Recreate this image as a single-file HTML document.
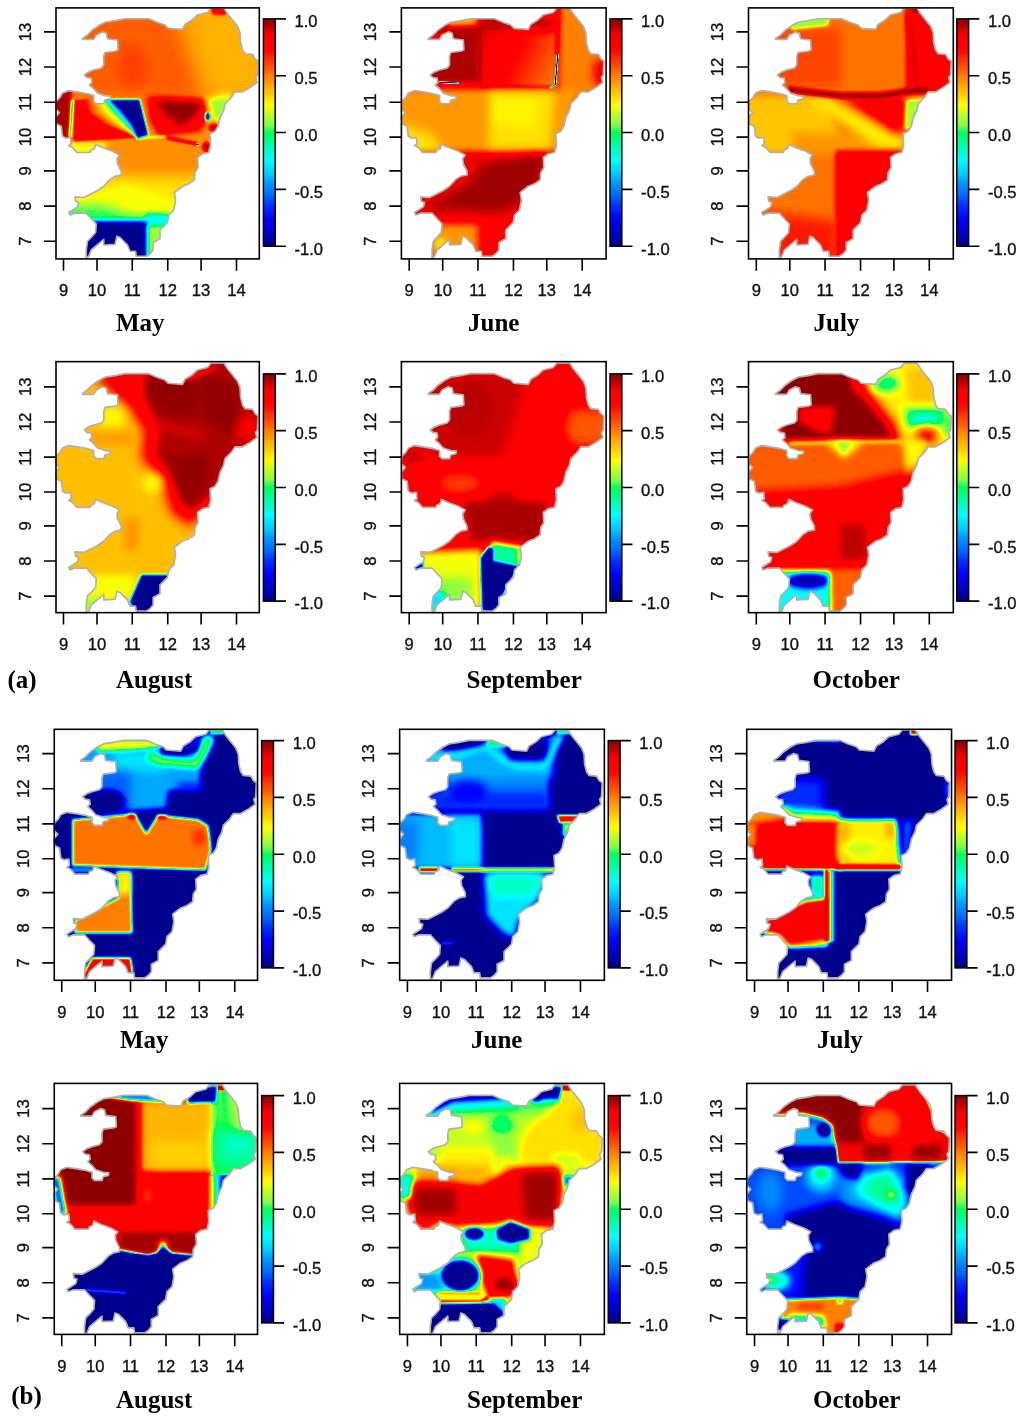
<!DOCTYPE html>
<html lang="en"><head><meta charset="utf-8"><title>Monthly correlation maps</title>
<style>html,body{margin:0;padding:0;background:#fff}svg{display:block}.a{font-family:"Liberation Sans",sans-serif;font-size:16.6px;fill:#111;stroke:#111;stroke-width:.35px}.m{font-family:"Liberation Serif",serif;font-weight:bold;font-size:25px;fill:#000;text-anchor:start}.l{stroke:#000;stroke-width:1.6;fill:none}</style></head><body>
<svg width="1024" height="1418" viewBox="0 0 1024 1418">
<defs>
<polygon id="map" points="82.5,38.5 87.5,35 92.5,30 98.75,25.6 105,22.25 115,20.6 125,18.75 148.75,18.75 157.5,22.5 165,25 168,28.3 182.5,29.4 185,24.4 191.25,20.6 197.5,15 207.5,12.5 211.25,8.1 223.75,8.1 227.5,13.75 237.5,26.25 240,32.5 240.6,42.5 242.5,50 245,53.75 252.5,54.4 255,58.75 258.1,61.25 257.5,75 255.6,77.5 256.9,82.5 250,87.5 242.5,91.9 235,91.9 231.25,97.5 225,103.75 223.75,110 220,117.5 218.1,126.25 215,131.25 210,133.75 210.6,145 208.75,152.5 202.5,153.75 197.5,157.5 198.1,167.5 195,172.5 194.4,180 188.75,183.75 182.5,186.25 174.4,192.5 175.6,200 173.75,210 168.75,215 167.5,222.5 160,230 160,238.75 153.1,242.5 153.1,250 150,253.75 146.25,256.25 136.25,256.25 135.6,251.25 130,251.25 127.5,245 120,237.5 116.9,236.25 115,244.4 103.75,245 103.75,239.4 91.25,250 88.75,256.25 86.25,258 86.25,250 87.5,241.25 91.25,237.5 95.6,232.5 96.25,223.75 92.5,220 86.25,213.1 75,213.1 70,215 68.75,212.5 77.5,206.9 78.75,202.5 75.6,201.25 75,196.9 83.75,197.5 91.25,193.75 97.5,190.6 103.75,186.25 110,179.4 115,176.25 121.25,175 121.25,171.25 117.5,163.75 116.9,158.75 119.4,155 112.5,151.25 102.5,147.5 95.6,144.4 94.4,148.75 91.25,150 90,152.5 76.9,152.5 72.5,147.5 68.75,145.6 71.25,143.75 70.6,137.5 65.6,138.1 62.5,136.25 61.25,126.25 56.25,123.75 55.6,117.5 59.4,112.5 55.6,108.75 56.25,101.25 60,97.5 62.5,93.1 68.75,90.6 77.5,91.9 87.5,93.75 93.75,95.6 93.75,101.25 96.25,103.75 103.75,103.75 105,100 110,98.75 110.6,96.25 105,95.6 97.5,93.1 93.75,88.75 89.4,85 91.9,82.5 91.25,78.1 86.9,77.5 84.4,75 88.75,71.9 93.75,70 101.25,68.1 103.75,65 103.75,56.25 105,52.5 115,51.25 118.1,50 117.5,40 107.5,38.75 106.25,33.1 102.5,31.9 96.25,35 93.75,39.4 82.5,39.4"/>
<linearGradient id="cb" x1="0" y1="0" x2="0" y2="1"><stop offset="0" stop-color="#8f0000"/><stop offset="0.03" stop-color="#b20000"/><stop offset="0.05" stop-color="#d50000"/><stop offset="0.07" stop-color="#f80000"/><stop offset="0.1" stop-color="#ff0000"/><stop offset="0.12" stop-color="#ff0000"/><stop offset="0.15" stop-color="#ff0c00"/><stop offset="0.17" stop-color="#ff2900"/><stop offset="0.2" stop-color="#ff4600"/><stop offset="0.23" stop-color="#ff6300"/><stop offset="0.25" stop-color="#ff8000"/><stop offset="0.28" stop-color="#ff9800"/><stop offset="0.3" stop-color="#ffb100"/><stop offset="0.33" stop-color="#ffc900"/><stop offset="0.35" stop-color="#ffe200"/><stop offset="0.38" stop-color="#fffa00"/><stop offset="0.4" stop-color="#e2ff0f"/><stop offset="0.42" stop-color="#bfff22"/><stop offset="0.45" stop-color="#9bff36"/><stop offset="0.47" stop-color="#77ff49"/><stop offset="0.5" stop-color="#00ff61"/><stop offset="0.53" stop-color="#00ff81"/><stop offset="0.55" stop-color="#00ffa0"/><stop offset="0.57" stop-color="#00ffc0"/><stop offset="0.6" stop-color="#00ffdf"/><stop offset="0.62" stop-color="#00ffff"/><stop offset="0.65" stop-color="#00e5ff"/><stop offset="0.68" stop-color="#00ccff"/><stop offset="0.7" stop-color="#00b3ff"/><stop offset="0.72" stop-color="#0099ff"/><stop offset="0.75" stop-color="#0080ff"/><stop offset="0.78" stop-color="#0066ff"/><stop offset="0.8" stop-color="#004cff"/><stop offset="0.82" stop-color="#0033ff"/><stop offset="0.85" stop-color="#001aff"/><stop offset="0.88" stop-color="#0000ff"/><stop offset="0.9" stop-color="#0000e9"/><stop offset="0.93" stop-color="#0000d2"/><stop offset="0.95" stop-color="#0000bc"/><stop offset="0.97" stop-color="#0000a5"/><stop offset="1" stop-color="#00008f"/></linearGradient>
<filter id="b0_6" filterUnits="userSpaceOnUse" x="-40" y="-40" width="1100" height="1500" color-interpolation-filters="sRGB"><feGaussianBlur stdDeviation="0.6"/></filter>
<filter id="b1" filterUnits="userSpaceOnUse" x="-40" y="-40" width="1100" height="1500" color-interpolation-filters="sRGB"><feGaussianBlur stdDeviation="1"/></filter>
<filter id="b1_5" filterUnits="userSpaceOnUse" x="-40" y="-40" width="1100" height="1500" color-interpolation-filters="sRGB"><feGaussianBlur stdDeviation="1.5"/></filter>
<filter id="b2" filterUnits="userSpaceOnUse" x="-40" y="-40" width="1100" height="1500" color-interpolation-filters="sRGB"><feGaussianBlur stdDeviation="2"/></filter>
<filter id="b3" filterUnits="userSpaceOnUse" x="-40" y="-40" width="1100" height="1500" color-interpolation-filters="sRGB"><feGaussianBlur stdDeviation="3"/></filter>
<filter id="b4" filterUnits="userSpaceOnUse" x="-40" y="-40" width="1100" height="1500" color-interpolation-filters="sRGB"><feGaussianBlur stdDeviation="4"/></filter>
<filter id="b6" filterUnits="userSpaceOnUse" x="-40" y="-40" width="1100" height="1500" color-interpolation-filters="sRGB"><feGaussianBlur stdDeviation="6"/></filter>
<filter id="b8" filterUnits="userSpaceOnUse" x="-40" y="-40" width="1100" height="1500" color-interpolation-filters="sRGB"><feGaussianBlur stdDeviation="8"/></filter>
<filter id="b12" filterUnits="userSpaceOnUse" x="-40" y="-40" width="1100" height="1500" color-interpolation-filters="sRGB"><feGaussianBlur stdDeviation="12"/></filter>
<filter id="jet" filterUnits="userSpaceOnUse" x="0" y="0" width="1024" height="1418" color-interpolation-filters="sRGB"><feComponentTransfer><feFuncR type="table" tableValues="0 0 0 0 0 0 0 0 0 0 0 0 0 0 0 0 0 0 0 0 0 0 0 0 0 0 0 0 0 0 0 0 0 0 0 0 0 0 0 0 0 0 0 0 0 0 0 0 0 0 0 0 0.44 0.496 0.552 0.608 0.664 0.72 0.776 0.832 0.888 0.944 1 1 1 1 1 1 1 1 1 1 1 1 1 1 1 1 1 1 1 1 1 1 1 1 1 1 1 1 1 1 1 0.945 0.89 0.835 0.78 0.725 0.67 0.615 0.56"/><feFuncG type="table" tableValues="0 0 0 0 0 0 0 0 0 0 0 0 0 0.02 0.06 0.1 0.14 0.18 0.22 0.26 0.3 0.34 0.38 0.42 0.46 0.5 0.54 0.58 0.62 0.66 0.7 0.74 0.78 0.82 0.86 0.9 0.94 0.98 1 1 1 1 1 1 1 1 1 1 1 1 1 1 1 1 1 1 1 1 1 1 1 1 1 0.962 0.923 0.885 0.846 0.808 0.769 0.731 0.692 0.654 0.615 0.577 0.538 0.5 0.455 0.409 0.364 0.318 0.273 0.227 0.182 0.136 0.0909 0.0455 0 0 0 0 0 0 0 0 0 0 0 0 0 0 0"/><feFuncB type="table" tableValues="0.56 0.595 0.63 0.666 0.701 0.736 0.771 0.806 0.842 0.877 0.912 0.947 0.982 1 1 1 1 1 1 1 1 1 1 1 1 1 1 1 1 1 1 1 1 1 1 1 1 1 0.975 0.926 0.876 0.826 0.777 0.727 0.678 0.628 0.578 0.529 0.479 0.43 0.38 0.327 0.3 0.27 0.24 0.21 0.18 0.15 0.12 0.09 0.06 0.03 0 0 0 0 0 0 0 0 0 0 0 0 0 0 0 0 0 0 0 0 0 0 0 0 0 0 0 0 0 0 0 0 0 0 0 0 0 0 0"/></feComponentTransfer></filter>
<g id="axx">
<path class="l" d="M63.5 258.9v11.8M97 258.9v11.8M132.25 258.9v11.8M167.75 258.9v11.8M201.1 258.9v11.8M236.5 258.9v11.8"/>
<text class="a" text-anchor="middle" x="63.5" y="296.2">9</text>
<text class="a" text-anchor="middle" x="97" y="296.2">10</text>
<text class="a" text-anchor="middle" x="132.25" y="296.2">11</text>
<text class="a" text-anchor="middle" x="167.75" y="296.2">12</text>
<text class="a" text-anchor="middle" x="201.1" y="296.2">13</text>
<text class="a" text-anchor="middle" x="236.5" y="296.2">14</text>
</g>
<g id="axy">
<path class="l" d="M56 241.2h-12M56 206.1h-12M56 170.9h-12M56 137.1h-12M56 102.2h-12M56 67h-12M56 31.9h-12"/>
<text class="a" text-anchor="middle" transform="translate(30.8 241.2) rotate(-90)">7</text>
<text class="a" text-anchor="middle" transform="translate(30.8 206.1) rotate(-90)">8</text>
<text class="a" text-anchor="middle" transform="translate(30.8 170.9) rotate(-90)">9</text>
<text class="a" text-anchor="middle" transform="translate(30.8 137.1) rotate(-90)">10</text>
<text class="a" text-anchor="middle" transform="translate(30.8 102.2) rotate(-90)">11</text>
<text class="a" text-anchor="middle" transform="translate(30.8 67) rotate(-90)">12</text>
<text class="a" text-anchor="middle" transform="translate(30.8 31.9) rotate(-90)">13</text>
</g>
<g id="axb">
<path class="l" d="M275.2 18.9h10.7M275.2 75.72h10.7M275.2 132.55h10.7M275.2 189.38h10.7M275.2 246.2h10.7"/>
<rect x="263.4" y="18.9" width="11.8" height="227.3" fill="url(#cb)" stroke="#000" stroke-width="1.5"/>
<text class="a" x="294.5" y="27.2">1.0</text>
<text class="a" x="294.5" y="84.02">0.5</text>
<text class="a" x="294.5" y="140.85">0.0</text>
<text class="a" x="294.5" y="197.68">-0.5</text>
<text class="a" x="294.5" y="254.5">-1.0</text>
</g>
</defs>
<rect width="1024" height="1418" fill="#fff"/>
<clipPath id="c0"><use href="#map" transform="translate(0 0)"/></clipPath>
<g clip-path="url(#c0)"><g filter="url(#jet)">
<rect x="50" y="4" width="240" height="262" fill="#bbbbbb"/>
<filter id="f0_8" filterUnits="userSpaceOnUse" x="40" y="-6" width="260" height="282" color-interpolation-filters="sRGB"><feGaussianBlur stdDeviation="8"/></filter>
<g filter="url(#f0_8)"><polygon points="75,11.5 170,11.5 190,66.5 200,99 75,99" fill="#c7c7c7"/><polygon points="185,4 267.5,4 267.5,99 215,99 200,66.5" fill="#b2b2b2"/></g>
<filter id="f0_6" filterUnits="userSpaceOnUse" x="40" y="-6" width="260" height="282" color-interpolation-filters="sRGB"><feGaussianBlur stdDeviation="6"/></filter>
<g filter="url(#f0_6)"><ellipse cx="132.5" cy="66.5" rx="15" ry="22.5" fill="#cdcdcd"/></g>
<filter id="f0_1_5" filterUnits="userSpaceOnUse" x="40" y="-6" width="260" height="282" color-interpolation-filters="sRGB"><feGaussianBlur stdDeviation="1.5"/></filter>
<g filter="url(#f0_1_5)"><polygon points="210,4 231.25,4 225,15.25 212.5,14.5" fill="#e6e6e6"/></g>
<g filter="url(#f0_6)"><polygon points="60,176.5 210,176.5 210,261.5 60,261.5" fill="#a6a6a6"/></g>
<filter id="f0_4" filterUnits="userSpaceOnUse" x="40" y="-6" width="260" height="282" color-interpolation-filters="sRGB"><feGaussianBlur stdDeviation="4"/></filter>
<g filter="url(#f0_4)"><polygon points="65,201.5 125,185.25 180,201.5 180,216.5 125,206.5 65,219" fill="#9c9c9c"/></g>
<filter id="f0_3_5" filterUnits="userSpaceOnUse" x="40" y="-6" width="260" height="282" color-interpolation-filters="sRGB"><feGaussianBlur stdDeviation="3.5"/></filter>
<g filter="url(#f0_3_5)"><polygon points="60,205.25 100,203.5 132.5,212 172.5,214.5 172.5,225.25 60,227.75" fill="#838383"/></g>
<filter id="f0_2" filterUnits="userSpaceOnUse" x="40" y="-6" width="260" height="282" color-interpolation-filters="sRGB"><feGaussianBlur stdDeviation="2"/></filter>
<g filter="url(#f0_2)"><polygon points="146.25,215.25 172.5,215.25 172.5,261.5 146.25,261.5" fill="#8c8c8c"/><polygon points="146.25,214 172.5,215.25 172.5,225.25 146.25,225.25" fill="#606060"/><polygon points="80,221 146.5,221 146.5,261.5 75,261.5" fill="#000000"/></g>
<g filter="url(#f0_1_5)"><polygon points="50,89 71.5,89 71.5,144 50,144" fill="#f9f9f9"/></g>
<filter id="f0_2_5" filterUnits="userSpaceOnUse" x="40" y="-6" width="260" height="282" color-interpolation-filters="sRGB"><feGaussianBlur stdDeviation="2.5"/></filter>
<g filter="url(#f0_2_5)"><polygon points="60,141 107.5,142 100,159 60,159" fill="#9f9f9f"/></g>
<filter id="f0_1_3" filterUnits="userSpaceOnUse" x="40" y="-6" width="260" height="282" color-interpolation-filters="sRGB"><feGaussianBlur stdDeviation="1.3"/></filter>
<g filter="url(#f0_1_3)"><polygon points="73.75,100 90,100 137.5,137.5 73.75,141.5" fill="#e8e8e8"/></g>
<filter id="f0_1_2" filterUnits="userSpaceOnUse" x="40" y="-6" width="260" height="282" color-interpolation-filters="sRGB"><feGaussianBlur stdDeviation="1.2"/></filter>
<g filter="url(#f0_1_2)"><polygon points="83.75,99.75 87.5,112.5 103.75,125 137.5,137.5 137.5,137.5 105.42,125 88.75,112.5 85,99.75" fill="#e0e0e0" stroke="#e0e0e0" stroke-width="0.3" stroke-linejoin="round"/><polygon points="85,99.75 88.75,112.5 105.42,125 137.5,137.5 137.5,137.5 107.08,125 90,112.5 86.25,99.75" fill="#d9d9d9" stroke="#d9d9d9" stroke-width="0.3" stroke-linejoin="round"/><polygon points="86.25,99.75 90,112.5 107.08,125 137.5,137.5 137.5,137.5 108.75,125 91.25,112.5 87.5,99.75" fill="#d2d2d2" stroke="#d2d2d2" stroke-width="0.3" stroke-linejoin="round"/><polygon points="87.5,99.75 91.25,112.5 108.75,125 137.5,137.5 137.5,137.5 111.67,125 95,112.5 90.42,99.75" fill="#c9c9c9" stroke="#c9c9c9" stroke-width="0.3" stroke-linejoin="round"/><polygon points="90.42,99.75 95,112.5 111.67,125 137.5,137.5 137.5,137.5 114.58,125 98.75,112.5 93.33,99.75" fill="#bfbfbf" stroke="#bfbfbf" stroke-width="0.3" stroke-linejoin="round"/><polygon points="93.33,99.75 98.75,112.5 114.58,125 137.5,137.5 137.5,137.5 117.5,125 102.5,112.5 96.25,99.75" fill="#b4b4b4" stroke="#b4b4b4" stroke-width="0.3" stroke-linejoin="round"/><polygon points="96.25,99.75 102.5,112.5 117.5,125 137.5,137.5 137.5,137.5 120,125 105.83,112.5 98.33,99.75" fill="#a9a9a9" stroke="#a9a9a9" stroke-width="0.3" stroke-linejoin="round"/><polygon points="98.33,99.75 105.83,112.5 120,125 137.5,137.5 137.5,137.5 122.5,125 109.17,112.5 100.42,99.75" fill="#9f9f9f" stroke="#9f9f9f" stroke-width="0.3" stroke-linejoin="round"/><polygon points="100.42,99.75 109.17,112.5 122.5,125 137.5,137.5 137.5,137.5 125,125 112.5,112.5 102.5,99.75" fill="#949494" stroke="#949494" stroke-width="0.3" stroke-linejoin="round"/><polygon points="102.5,99.75 112.5,112.5 125,125 137.5,137.5 137.5,137.5 125.83,125 113.75,112.5 103.5,99.75" fill="#8a8a8a" stroke="#8a8a8a" stroke-width="0.3" stroke-linejoin="round"/><polygon points="103.5,99.75 113.75,112.5 125.83,125 137.5,137.5 137.5,137.5 126.67,125 115,112.5 104.5,99.75" fill="#808080" stroke="#808080" stroke-width="0.3" stroke-linejoin="round"/><polygon points="104.5,99.75 115,112.5 126.67,125 137.5,137.5 137.5,137.5 127.5,125 116.25,112.5 105.5,99.75" fill="#757575" stroke="#757575" stroke-width="0.3" stroke-linejoin="round"/><polygon points="105.5,99.75 116.25,112.5 127.5,125 137.5,137.5 137.67,137.5 128.83,125 118,112.5 106.67,99.75" fill="#666666" stroke="#666666" stroke-width="0.3" stroke-linejoin="round"/><polygon points="106.67,99.75 118,112.5 128.83,125 137.67,137.5 137.83,137.5 130.17,125 119.75,112.5 107.83,99.75" fill="#525252" stroke="#525252" stroke-width="0.3" stroke-linejoin="round"/><polygon points="107.83,99.75 119.75,112.5 130.17,125 137.83,137.5 138,137.5 131.5,125 121.5,112.5 109,99.75" fill="#3d3d3d" stroke="#3d3d3d" stroke-width="0.3" stroke-linejoin="round"/></g>
<filter id="f0_1" filterUnits="userSpaceOnUse" x="40" y="-6" width="260" height="282" color-interpolation-filters="sRGB"><feGaussianBlur stdDeviation="1"/></filter>
<g filter="url(#f0_1)"><polyline points="72.5,100.25 70,137" fill="none" stroke="#595959" stroke-width="2.5" stroke-linejoin="round" stroke-linecap="butt"/><polygon points="109,99.75 139.5,99.75 148.25,135.25 138,138.5 131.5,125 121.5,112.5" fill="#000000"/></g>
<filter id="f0_3" filterUnits="userSpaceOnUse" x="40" y="-6" width="260" height="282" color-interpolation-filters="sRGB"><feGaussianBlur stdDeviation="3"/></filter>
<g filter="url(#f0_3)"><polygon points="146.75,96.5 203.5,99.75 208.5,114 201,131 160,136.5 150,121.5" fill="#e8e8e8"/></g>
<g filter="url(#f0_3_5)"><polygon points="155,99.75 203,101.5 195,116.5 180,126.5 165,114" fill="#fefefe"/></g>
<g filter="url(#f0_3)"><polygon points="207,99 231.25,94 225,119 213.75,121.5 210.5,109" fill="#8c8c8c"/></g>
<filter id="f0_0_8" filterUnits="userSpaceOnUse" x="40" y="-6" width="260" height="282" color-interpolation-filters="sRGB"><feGaussianBlur stdDeviation="0.8"/></filter>
<g filter="url(#f0_0_8)"><ellipse cx="207.75" cy="116.5" rx="2.25" ry="4" fill="#000000"/></g>
<g filter="url(#f0_1_5)"><ellipse cx="213.75" cy="127.75" rx="5" ry="3.75" fill="#f5f5f5"/><ellipse cx="206.25" cy="147" rx="3.75" ry="5" fill="#f9f9f9"/></g>
<g filter="url(#f0_1)"><polyline points="140.5,138 165,136.75" fill="none" stroke="#808080" stroke-width="1.5" stroke-linejoin="round" stroke-linecap="butt"/><polyline points="167.5,138 197.5,144" fill="none" stroke="#f0f0f0" stroke-width="3" stroke-linejoin="round" stroke-linecap="butt"/></g>
<filter id="f0_0_6" filterUnits="userSpaceOnUse" x="40" y="-6" width="260" height="282" color-interpolation-filters="sRGB"><feGaussianBlur stdDeviation="0.6"/></filter>
<g filter="url(#f0_0_6)"><ellipse cx="197.5" cy="144.25" rx="1.5" ry="1" fill="#191919"/></g>
</g></g>
<use href="#map" transform="translate(0 0)" fill="none" stroke="#b0b0b0" stroke-width="1.7" stroke-linejoin="round"/>
<use href="#axy" transform="translate(0 0)"/>
<use href="#axb" transform="translate(0 0)"/>
<use href="#axx" transform="translate(0 0)"/>
<rect class="l" x="56" y="7.9" width="203.3" height="251"/>
<clipPath id="c1"><use href="#map" transform="translate(345.8 0)"/></clipPath>
<g clip-path="url(#c1)"><g filter="url(#jet)">
<defs><linearGradient id="g1_1" gradientUnits="userSpaceOnUse" x1="481.25" y1="44" x2="555" y2="79"><stop offset="0" stop-color="#f0f0f0"/><stop offset="0.17" stop-color="#e8e8e8"/><stop offset="0.33" stop-color="#e0e0e0"/><stop offset="0.5" stop-color="#d9d9d9"/><stop offset="0.67" stop-color="#d1d1d1"/><stop offset="0.83" stop-color="#c9c9c9"/><stop offset="1" stop-color="#c2c2c2"/></linearGradient></defs>
<rect x="395" y="4" width="240" height="262" fill="#e6e6e6"/>
<filter id="f1_2_5" filterUnits="userSpaceOnUse" x="385" y="-6" width="260" height="282" color-interpolation-filters="sRGB"><feGaussianBlur stdDeviation="2.5"/></filter>
<g filter="url(#f1_2_5)"><polygon points="415,11.5 479.5,11.5 479.5,82.5 415,82.5" fill="#f9f9f9"/></g>
<filter id="f1_3" filterUnits="userSpaceOnUse" x="385" y="-6" width="260" height="282" color-interpolation-filters="sRGB"><feGaussianBlur stdDeviation="3"/></filter>
<g filter="url(#f1_3)"><polygon points="420,31.5 448.75,31.5 448.75,41.5 420,41.5" fill="#ebebeb"/></g>
<filter id="f1_2_2" filterUnits="userSpaceOnUse" x="385" y="-6" width="260" height="282" color-interpolation-filters="sRGB"><feGaussianBlur stdDeviation="2.2"/></filter>
<g filter="url(#f1_2_2)"><polygon points="442.5,14 486.25,14 483.75,25 448.75,26.5" fill="#b5b5b5"/></g>
<g filter="url(#f1_2_5)"><polygon points="479.5,11.5 558,11.5 558,88 479.5,88" fill="url(#g1_1)"/></g>
<filter id="f1_4" filterUnits="userSpaceOnUse" x="385" y="-6" width="260" height="282" color-interpolation-filters="sRGB"><feGaussianBlur stdDeviation="4"/></filter>
<g filter="url(#f1_4)"><polygon points="478.75,16.5 558,16.5 558,30.25 478.75,30.25" fill="#f6f6f6"/></g>
<filter id="f1_1_5" filterUnits="userSpaceOnUse" x="385" y="-6" width="260" height="282" color-interpolation-filters="sRGB"><feGaussianBlur stdDeviation="1.5"/></filter>
<g filter="url(#f1_1_5)"><polyline points="480,24 480,85.5" fill="none" stroke="#fcfcfc" stroke-width="3" stroke-linejoin="round" stroke-linecap="butt"/><polyline points="480,86.75 550.5,88.25" fill="none" stroke="#fcfcfc" stroke-width="3.5" stroke-linejoin="round" stroke-linecap="butt"/><polyline points="559.25,7.75 557.25,54" fill="none" stroke="#fafafa" stroke-width="3.5" stroke-linejoin="round" stroke-linecap="butt"/></g>
<g filter="url(#f1_2_5)"><polygon points="560.5,4 612.5,4 612.5,100.25 570,100.25 559.25,89" fill="#bfbfbf"/></g>
<filter id="f1_5" filterUnits="userSpaceOnUse" x="385" y="-6" width="260" height="282" color-interpolation-filters="sRGB"><feGaussianBlur stdDeviation="5"/></filter>
<g filter="url(#f1_5)"><ellipse cx="603.75" cy="72.75" rx="11.25" ry="15" fill="#e0e0e0"/></g>
<filter id="f1_0_7" filterUnits="userSpaceOnUse" x="385" y="-6" width="260" height="282" color-interpolation-filters="sRGB"><feGaussianBlur stdDeviation="0.7"/></filter>
<g filter="url(#f1_0_7)"><polyline points="557.75,54 555.25,84.5 550,88" fill="none" stroke="#191919" stroke-width="1.5" stroke-linejoin="round" stroke-linecap="butt"/></g>
<g filter="url(#f1_3)"><polygon points="395,89 575,89 575,153.5 395,153.5" fill="#b9b9b9"/></g>
<g filter="url(#f1_5)"><polygon points="400,124 432.5,134 445,156.5 400,156.5" fill="#a6a6a6"/><polygon points="488.75,92 555,92 550,149 488.75,149" fill="#a6a6a6"/><polygon points="491.25,96.5 537.5,96.5 535,129 491.25,124" fill="#a1a1a1"/></g>
<g filter="url(#f1_0_7)"><polyline points="438.75,82.25 459,83" fill="none" stroke="#262626" stroke-width="1.5" stroke-linejoin="round" stroke-linecap="butt"/></g>
<g filter="url(#f1_4)"><polygon points="405,154 575,154 575,222.75 405,222.75" fill="#eeeeee"/></g>
<g filter="url(#f1_5)"><polygon points="482.5,164 545,154 535,194 500,211.5 457.5,209 425,207.75 470,184" fill="#fcfcfc"/></g>
<g filter="url(#f1_4)"><polygon points="430,223.5 478.75,223.5 478.75,261.5 430,261.5" fill="#b9b9b9"/><polygon points="478.75,222.75 515,222.75 515,261.5 478.75,261.5" fill="#e6e6e6"/></g>
<g filter="url(#f1_2_5)"><ellipse cx="440" cy="244" rx="6.25" ry="6.25" fill="#a6a6a6"/></g>
</g></g>
<use href="#map" transform="translate(345.8 0)" fill="none" stroke="#b0b0b0" stroke-width="1.7" stroke-linejoin="round"/>
<use href="#axy" transform="translate(345.4 0)"/>
<use href="#axb" transform="translate(346.6 0)"/>
<use href="#axx" transform="translate(345.7 0)"/>
<rect class="l" x="401.4" y="7.9" width="204.7" height="251"/>
<clipPath id="c2"><use href="#map" transform="translate(693.1 0)"/></clipPath>
<g clip-path="url(#c2)"><g filter="url(#jet)">
<rect x="742" y="4" width="240" height="262" fill="#c2c2c2"/>
<filter id="f2_6" filterUnits="userSpaceOnUse" x="732" y="-6" width="260" height="282" color-interpolation-filters="sRGB"><feGaussianBlur stdDeviation="6"/></filter>
<g filter="url(#f2_6)"><polygon points="772,26.5 842,26.5 842,87.75 772,87.75" fill="#cccccc"/></g>
<filter id="f2_1_5" filterUnits="userSpaceOnUse" x="732" y="-6" width="260" height="282" color-interpolation-filters="sRGB"><feGaussianBlur stdDeviation="1.5"/></filter>
<g filter="url(#f2_1_5)"><polygon points="788.25,16.5 830,16.5 827.5,25.5 792,29.5" fill="#8c8c8c"/></g>
<filter id="f2_2" filterUnits="userSpaceOnUse" x="732" y="-6" width="260" height="282" color-interpolation-filters="sRGB"><feGaussianBlur stdDeviation="2"/></filter>
<g filter="url(#f2_2)"><polygon points="906.25,4 959.5,4 959.5,92.75 906.25,92.75" fill="#e6e6e6"/></g>
<filter id="f2_2_5" filterUnits="userSpaceOnUse" x="732" y="-6" width="260" height="282" color-interpolation-filters="sRGB"><feGaussianBlur stdDeviation="2.5"/></filter>
<g filter="url(#f2_2_5)"><polyline points="909,14 917.5,87" fill="none" stroke="#f2f2f2" stroke-width="6" stroke-linejoin="round" stroke-linecap="butt"/></g>
<filter id="f2_4" filterUnits="userSpaceOnUse" x="732" y="-6" width="260" height="282" color-interpolation-filters="sRGB"><feGaussianBlur stdDeviation="4"/></filter>
<g filter="url(#f2_4)"><polygon points="742,95.5 824.5,95.5 847,154 742,154" fill="#adadad"/><polygon points="792,131.5 904.5,136.5 904.5,154 792,154" fill="#b9b9b9"/></g>
<filter id="f2_5" filterUnits="userSpaceOnUse" x="732" y="-6" width="260" height="282" color-interpolation-filters="sRGB"><feGaussianBlur stdDeviation="5"/></filter>
<g filter="url(#f2_5)"><polygon points="808.25,100.25 828.25,98.5 903.25,137.75 902,150.25 877,146.5" fill="#a2a2a2"/><polygon points="842,97 905.75,97 903.25,131.5 894.5,134" fill="#e6e6e6"/></g>
<g filter="url(#f2_1_5)"><polygon points="906.25,100.25 923.25,98.5 913,127 905,129.5" fill="#8f8f8f"/></g>
<filter id="f2_1_6" filterUnits="userSpaceOnUse" x="732" y="-6" width="260" height="282" color-interpolation-filters="sRGB"><feGaussianBlur stdDeviation="1.6"/></filter>
<g filter="url(#f2_1_6)"><polyline points="788.25,89.75 842,95.75 882,95.75 907,91.5 928.25,90" fill="none" stroke="#ffffff" stroke-width="6" stroke-linejoin="round" stroke-linecap="butt"/></g>
<g filter="url(#f2_2_5)"><polygon points="835.5,150.5 902,150.5 902,261.5 835.5,261.5" fill="#e6e6e6"/></g>
<g filter="url(#f2_4)"><polygon points="777,219.5 835.5,219.5 835.5,261.5 777,261.5" fill="#d6d6d6"/><polygon points="762,207.75 835.5,216.5 835.5,224 762,216.5" fill="#cccccc"/></g>
<filter id="f2_0_8" filterUnits="userSpaceOnUse" x="732" y="-6" width="260" height="282" color-interpolation-filters="sRGB"><feGaussianBlur stdDeviation="0.8"/></filter>
<g filter="url(#f2_0_8)"><polygon points="912,7 920,7 920,13 912,13" fill="#f9f9f9"/></g>
</g></g>
<use href="#map" transform="translate(693.1 0)" fill="none" stroke="#b0b0b0" stroke-width="1.7" stroke-linejoin="round"/>
<use href="#axy" transform="translate(692.5 0)"/>
<use href="#axb" transform="translate(693.4 0)"/>
<use href="#axx" transform="translate(692.8 0)"/>
<rect class="l" x="748.5" y="7.9" width="204.8" height="251"/>
<clipPath id="c3"><use href="#map" transform="translate(0 354.95)"/></clipPath>
<g clip-path="url(#c3)"><g filter="url(#jet)">
<rect x="50" y="358" width="240" height="262" fill="#afafaf"/>
<filter id="f3_6" filterUnits="userSpaceOnUse" x="40" y="348" width="260" height="282" color-interpolation-filters="sRGB"><feGaussianBlur stdDeviation="6"/></filter>
<g filter="url(#f3_6)"><polygon points="97.5,375.5 120,371.75 155,370.5 170,380.5 185,380.5 215,358 242.5,358 267.5,408 267.5,440.5 232.5,454.25 213.75,499.25 190,523 173.75,511.75 163.75,481.75 143.75,456.75 146.25,430.5 131.25,406.75" fill="#c6c6c6" stroke="#c6c6c6" stroke-width="12" stroke-linejoin="round"/></g>
<filter id="f3_5" filterUnits="userSpaceOnUse" x="40" y="348" width="260" height="282" color-interpolation-filters="sRGB"><feGaussianBlur stdDeviation="5"/></filter>
<g filter="url(#f3_5)"><polygon points="97.5,375.5 120,371.75 155,370.5 170,380.5 185,380.5 215,358 242.5,358 267.5,408 267.5,440.5 232.5,454.25 213.75,499.25 190,523 173.75,511.75 163.75,481.75 143.75,456.75 146.25,430.5 131.25,406.75" fill="#e3e3e3"/></g>
<filter id="f3_3_5" filterUnits="userSpaceOnUse" x="40" y="348" width="260" height="282" color-interpolation-filters="sRGB"><feGaussianBlur stdDeviation="3.5"/></filter>
<g filter="url(#f3_3_5)"><polygon points="143,373 155,370.5 170,380 185,380 215,358 242.5,358 267.5,408 267.5,439.25 233.75,451 213.75,493 192,511 182,503.5 171,475.5 155.5,455.5 159.25,430.5 148,405.5" fill="#f9f9f9"/></g>
<g filter="url(#f3_5)"><polygon points="146,379.5 198.75,379.5 198.75,418.5 165.5,414.75 146,399" fill="#fefefe"/><polygon points="200.75,371.75 236,383.5 239.75,414.75 232,438 204.5,418.5" fill="#fefefe"/><polygon points="167.5,455.5 210,453 205,488 190,505.5 180,493" fill="#fefefe"/></g>
<filter id="f3_3" filterUnits="userSpaceOnUse" x="40" y="348" width="260" height="282" color-interpolation-filters="sRGB"><feGaussianBlur stdDeviation="3"/></filter>
<g filter="url(#f3_3)"><polyline points="157.75,424.5 204.5,436.25" fill="none" stroke="#ebebeb" stroke-width="4" stroke-linejoin="round" stroke-linecap="butt"/></g>
<filter id="f3_4" filterUnits="userSpaceOnUse" x="40" y="348" width="260" height="282" color-interpolation-filters="sRGB"><feGaussianBlur stdDeviation="4"/></filter>
<g filter="url(#f3_4)"><polygon points="240.5,414.75 267.5,414.75 267.5,439.25 235,440.5" fill="#ececec"/></g>
<filter id="f3_2" filterUnits="userSpaceOnUse" x="40" y="348" width="260" height="282" color-interpolation-filters="sRGB"><feGaussianBlur stdDeviation="2"/></filter>
<g filter="url(#f3_2)"><polyline points="186.25,379 215,368" fill="none" stroke="#e3e3e3" stroke-width="3" stroke-linejoin="round" stroke-linecap="butt"/></g>
<g filter="url(#f3_5)"><ellipse cx="112.5" cy="416.75" rx="12.5" ry="10" fill="#9e9e9e"/><ellipse cx="152.5" cy="483" rx="10" ry="10" fill="#9e9e9e"/></g>
<g filter="url(#f3_4)"><polygon points="92.5,575.5 136.25,575.5 130,599.25 87.5,601.75" fill="#9c9c9c"/></g>
<g filter="url(#f3_3)"><polygon points="82.5,596.75 100,596.75 100,613 82.5,613" fill="#8c8c8c"/></g>
<g filter="url(#f3_4)"><polygon points="125,518 140,518 137.5,550.5 125,550.5" fill="#bababa"/><polygon points="90,433 135,433 135,444.25 90,444.25" fill="#b9b9b9"/></g>
<filter id="f3_1_2" filterUnits="userSpaceOnUse" x="40" y="348" width="260" height="282" color-interpolation-filters="sRGB"><feGaussianBlur stdDeviation="1.2"/></filter>
<g filter="url(#f3_1_2)"><polygon points="141.5,575 169.5,575 161.75,590.5 151.75,611.75 136.25,611.75 129.75,602" fill="#000000"/></g>
</g></g>
<use href="#map" transform="translate(0 354.95)" fill="none" stroke="#b0b0b0" stroke-width="1.7" stroke-linejoin="round"/>
<use href="#axy" transform="translate(0 354.95)"/>
<use href="#axb" transform="translate(0 354.95)"/>
<use href="#axx" transform="translate(0 353.75)"/>
<rect class="l" x="56" y="361.65" width="203.3" height="251"/>
<clipPath id="c4"><use href="#map" transform="translate(345.8 354.95)"/></clipPath>
<g clip-path="url(#c4)"><g filter="url(#jet)">
<rect x="395" y="358" width="240" height="262" fill="#e6e6e6"/>
<filter id="f4_8" filterUnits="userSpaceOnUse" x="385" y="348" width="260" height="282" color-interpolation-filters="sRGB"><feGaussianBlur stdDeviation="8"/></filter>
<g filter="url(#f4_8)"><polygon points="422.5,370.5 531.25,370.5 505,458 427.5,458" fill="#f4f4f4"/></g>
<filter id="f4_6" filterUnits="userSpaceOnUse" x="385" y="348" width="260" height="282" color-interpolation-filters="sRGB"><feGaussianBlur stdDeviation="6"/></filter>
<g filter="url(#f4_6)"><ellipse cx="470" cy="408" rx="22.5" ry="27.5" fill="#f7f7f7"/><polygon points="570,408 612.5,408 612.5,446.75 575,446.75 562.5,433" fill="#c8c8c8"/></g>
<filter id="f4_5" filterUnits="userSpaceOnUse" x="385" y="348" width="260" height="282" color-interpolation-filters="sRGB"><feGaussianBlur stdDeviation="5"/></filter>
<g filter="url(#f4_5)"><ellipse cx="460" cy="483" rx="22.5" ry="11.25" fill="#cfcfcf"/></g>
<filter id="f4_3" filterUnits="userSpaceOnUse" x="385" y="348" width="260" height="282" color-interpolation-filters="sRGB"><feGaussianBlur stdDeviation="3"/></filter>
<g filter="url(#f4_3)"><polygon points="400,446.75 425,446.75 425,464.25 400,464.25" fill="#f2f2f2"/></g>
<g filter="url(#f4_5)"><polygon points="490,490.5 515,490.5 515,513 490,513" fill="#f5f5f5"/><polygon points="462.5,500.5 547.5,500.5 541.25,541.75 470,541.75" fill="#fafafa"/></g>
<filter id="f4_3_5" filterUnits="userSpaceOnUse" x="385" y="348" width="260" height="282" color-interpolation-filters="sRGB"><feGaussianBlur stdDeviation="3.5"/></filter>
<g filter="url(#f4_3_5)"><polygon points="405,553 481.5,549.25 481.5,615.5 405,615.5" fill="#9c9c9c"/></g>
<filter id="f4_4" filterUnits="userSpaceOnUse" x="385" y="348" width="260" height="282" color-interpolation-filters="sRGB"><feGaussianBlur stdDeviation="4"/></filter>
<g filter="url(#f4_4)"><polygon points="430,578 471.25,578 471.25,615.5 430,615.5" fill="#8a8a8a"/></g>
<filter id="f4_2" filterUnits="userSpaceOnUse" x="385" y="348" width="260" height="282" color-interpolation-filters="sRGB"><feGaussianBlur stdDeviation="2"/></filter>
<g filter="url(#f4_2)"><polygon points="430,593 445,593 445,608 430,608" fill="#595959"/></g>
<filter id="f4_1_2" filterUnits="userSpaceOnUse" x="385" y="348" width="260" height="282" color-interpolation-filters="sRGB"><feGaussianBlur stdDeviation="1.2"/></filter>
<g filter="url(#f4_1_2)"><polygon points="412.5,561.75 423,561.75 423,569.25 412.5,569.25" fill="#191919"/></g>
<filter id="f4_2_5" filterUnits="userSpaceOnUse" x="385" y="348" width="260" height="282" color-interpolation-filters="sRGB"><feGaussianBlur stdDeviation="2.5"/></filter>
<g filter="url(#f4_2_5)"><polygon points="491.25,541.75 526.25,548 523,567.5 491.25,565" fill="#737373"/></g>
<g filter="url(#f4_2)"><polygon points="516.25,549.25 527.5,549.25 525,565.5 517.5,565.5" fill="#939393"/></g>
<g filter="url(#f4_1_2)"><polygon points="488,547.5 493.25,547.5 493.25,561 519.25,566.25 509,583 501.5,598 496.5,613 482,610.5 480.5,558" fill="#000000"/></g>
</g></g>
<use href="#map" transform="translate(345.8 354.95)" fill="none" stroke="#b0b0b0" stroke-width="1.7" stroke-linejoin="round"/>
<use href="#axy" transform="translate(345.4 354.95)"/>
<use href="#axb" transform="translate(346.6 354.95)"/>
<use href="#axx" transform="translate(345.7 353.75)"/>
<rect class="l" x="401.4" y="361.65" width="204.7" height="251"/>
<clipPath id="c5"><use href="#map" transform="translate(693.1 354.95)"/></clipPath>
<g clip-path="url(#c5)"><g filter="url(#jet)">
<rect x="742" y="358" width="240" height="262" fill="#c9c9c9"/>
<filter id="f5_4" filterUnits="userSpaceOnUse" x="732" y="348" width="260" height="282" color-interpolation-filters="sRGB"><feGaussianBlur stdDeviation="4"/></filter>
<g filter="url(#f5_4)"><polygon points="852,358 959.5,358 959.5,448 902,444.25 892,440.5 859.5,395.5" fill="#a2a2a2"/><polygon points="849.5,368 868.25,376 887,405.5 899.5,420.5 906.5,442 892,440.5 878.25,424.25 855.75,404.25" fill="#bfbfbf"/></g>
<filter id="f5_3" filterUnits="userSpaceOnUse" x="732" y="348" width="260" height="282" color-interpolation-filters="sRGB"><feGaussianBlur stdDeviation="3"/></filter>
<g filter="url(#f5_3)"><polygon points="849.5,370.5 861.5,378.5 880,407 892.5,422 900,441.25 892,440.5 878.25,424.25 855.75,404.25" fill="#e3e3e3"/></g>
<g filter="url(#f5_4)"><ellipse cx="885" cy="384.5" rx="14.5" ry="8.5" fill="#808080" transform="rotate(-12 885 384.5)"/></g>
<g filter="url(#f5_3)"><ellipse cx="889.5" cy="383" rx="7" ry="5" fill="#797979"/></g>
<filter id="f5_3_5" filterUnits="userSpaceOnUse" x="732" y="348" width="260" height="282" color-interpolation-filters="sRGB"><feGaussianBlur stdDeviation="3.5"/></filter>
<g filter="url(#f5_3_5)"><polygon points="905.75,368 934.5,368 935.75,404.25 909,404.25" fill="#adadad"/></g>
<g filter="url(#f5_4)"><polygon points="904,408 947,408 945,428.5 905.75,428" fill="#797979"/></g>
<g filter="url(#f5_3)"><polygon points="914.5,415 935.75,415 934.5,423.5 914.5,423.5" fill="#606060"/><polygon points="942,413.5 954.5,413.5 954.5,436 943.25,436" fill="#828282"/></g>
<g filter="url(#f5_4)"><ellipse cx="926.5" cy="435" rx="12" ry="9" fill="#d4d4d4"/></g>
<filter id="f5_2" filterUnits="userSpaceOnUse" x="732" y="348" width="260" height="282" color-interpolation-filters="sRGB"><feGaussianBlur stdDeviation="2"/></filter>
<g filter="url(#f5_2)"><ellipse cx="927.5" cy="437.5" rx="4.5" ry="4" fill="#dedede"/></g>
<g filter="url(#f5_3)"><polygon points="902,441 928.25,441 915,478.5 905,481" fill="#9f9f9f"/><polygon points="769.5,370.5 851,370.5 853.5,388 872,408 884.5,423.5 895,439.5 784.5,442 779.5,428" fill="#ffffff"/><polygon points="798.25,408 835,406.75 830,433.5 817,431 799.5,421" fill="#e6e6e6"/></g>
<filter id="f5_5" filterUnits="userSpaceOnUse" x="732" y="348" width="260" height="282" color-interpolation-filters="sRGB"><feGaussianBlur stdDeviation="5"/></filter>
<g filter="url(#f5_5)"><polygon points="742,445.5 902,445.5 902,475.5 842,493 742,498" fill="#c7c7c7"/></g>
<filter id="f5_1_5" filterUnits="userSpaceOnUse" x="732" y="348" width="260" height="282" color-interpolation-filters="sRGB"><feGaussianBlur stdDeviation="1.5"/></filter>
<g filter="url(#f5_1_5)"><polyline points="789.5,443.5 902,441.5" fill="none" stroke="#a6a6a6" stroke-width="3.5" stroke-linejoin="round" stroke-linecap="butt"/></g>
<g filter="url(#f5_3)"><polygon points="824.5,441.75 864.5,441.75 844.5,458" fill="#9c9c9c"/></g>
<g filter="url(#f5_2)"><polygon points="835.75,441.75 852,441.75 843.25,454.25" fill="#8c8c8c"/></g>
<filter id="f5_6" filterUnits="userSpaceOnUse" x="732" y="348" width="260" height="282" color-interpolation-filters="sRGB"><feGaussianBlur stdDeviation="6"/></filter>
<g filter="url(#f5_6)"><polygon points="752,493 842,488 922,468 922,570.5 752,570.5" fill="#e6e6e6"/></g>
<g filter="url(#f5_4)"><polygon points="838.25,523 867.5,523 867.5,561 838.25,561" fill="#f6f6f6"/></g>
<g filter="url(#f5_3)"><polygon points="833.25,569.5 864.5,569.5 864.5,615.5 833.25,615.5" fill="#c6c6c6"/></g>
<filter id="f5_2_5" filterUnits="userSpaceOnUse" x="732" y="348" width="260" height="282" color-interpolation-filters="sRGB"><feGaussianBlur stdDeviation="2.5"/></filter>
<g filter="url(#f5_2_5)"><polygon points="774.5,571 830,571 831,615.5 774.5,615.5" fill="#606060"/><ellipse cx="808.25" cy="581" rx="20.5" ry="7.5" fill="#0a0a0a"/></g>
</g></g>
<use href="#map" transform="translate(693.1 354.95)" fill="none" stroke="#b0b0b0" stroke-width="1.7" stroke-linejoin="round"/>
<use href="#axy" transform="translate(692.5 354.95)"/>
<use href="#axb" transform="translate(693.4 354.95)"/>
<use href="#axx" transform="translate(692.8 353.75)"/>
<rect class="l" x="748.5" y="361.65" width="204.8" height="251"/>
<clipPath id="c6"><use href="#map" transform="translate(-1.75 721.7)"/></clipPath>
<g clip-path="url(#c6)"><g filter="url(#jet)">
<rect x="48" y="725" width="240" height="262" fill="#000000"/>
<filter id="f6_2_5" filterUnits="userSpaceOnUse" x="38" y="715" width="260" height="282" color-interpolation-filters="sRGB"><feGaussianBlur stdDeviation="2.5"/></filter>
<g filter="url(#f6_2_5)"><polygon points="75.5,761.25 98,742.5 148,740 163,749 183,749 209.25,732.5 215,738.75 201.25,767.5 199,788 168.75,790.5 166.25,808.25 128.5,810.75 123,795.75 103.5,790.75 99.25,783" fill="#4a4a4a"/></g>
<filter id="f6_4" filterUnits="userSpaceOnUse" x="38" y="715" width="260" height="282" color-interpolation-filters="sRGB"><feGaussianBlur stdDeviation="4"/></filter>
<g filter="url(#f6_4)"><polygon points="113,750 165.5,752.5 165.5,772.5 115.5,770" fill="#595959"/></g>
<filter id="f6_2_2" filterUnits="userSpaceOnUse" x="38" y="715" width="260" height="282" color-interpolation-filters="sRGB"><feGaussianBlur stdDeviation="2.2"/></filter>
<g filter="url(#f6_2_2)"><polygon points="95.5,738.75 161.75,738.75 161.75,747.5 130.5,750 98,751.5" fill="#9c9c9c"/></g>
<filter id="f6_1_5" filterUnits="userSpaceOnUse" x="38" y="715" width="260" height="282" color-interpolation-filters="sRGB"><feGaussianBlur stdDeviation="1.5"/></filter>
<g filter="url(#f6_1_5)"><polygon points="159.25,749 184.25,749 201,739.5 198.5,751 184.25,756 161.75,755" fill="#060606"/></g>
<g filter="url(#f6_2_5)"><polyline points="148,755.5 161.75,761.5 195.5,764.5 202,755 209.5,738" fill="none" stroke="#8c8c8c" stroke-width="8" stroke-linejoin="round" stroke-linecap="butt"/></g>
<g filter="url(#f6_4)"><polygon points="98,772.5 130.5,772.5 130.5,810 98,810" fill="#383838"/></g>
<filter id="f6_3" filterUnits="userSpaceOnUse" x="38" y="715" width="260" height="282" color-interpolation-filters="sRGB"><feGaussianBlur stdDeviation="3"/></filter>
<g filter="url(#f6_3)"><polygon points="178,782.5 200.5,782.5 200.5,790.5 178,790.5" fill="#262626"/></g>
<filter id="f6_2" filterUnits="userSpaceOnUse" x="38" y="715" width="260" height="282" color-interpolation-filters="sRGB"><feGaussianBlur stdDeviation="2"/></filter>
<g filter="url(#f6_2)"><ellipse cx="108" cy="801.25" rx="16.5" ry="11.5" fill="#000000"/></g>
<filter id="f6_1_2" filterUnits="userSpaceOnUse" x="38" y="715" width="260" height="282" color-interpolation-filters="sRGB"><feGaussianBlur stdDeviation="1.2"/></filter>
<g filter="url(#f6_1_2)"><polygon points="210.5,727.5 224.25,727.5 224.25,734.5 210.5,734.5" fill="#808080"/></g>
<filter id="f6_1_7" filterUnits="userSpaceOnUse" x="38" y="715" width="260" height="282" color-interpolation-filters="sRGB"><feGaussianBlur stdDeviation="1.7"/></filter>
<g filter="url(#f6_1_7)"><polygon points="72.25,819.5 129.25,814.25 135.5,815 146.25,833.5 158,815 198,819.25 208.25,825.5 211.25,850 206,870.25 72.25,865.75" fill="#c2c2c2"/></g>
<g filter="url(#f6_1_5)"><ellipse cx="131.75" cy="816.5" rx="4.5" ry="2.5" fill="#ededed"/><ellipse cx="162.25" cy="817.25" rx="5.5" ry="2" fill="#ededed"/></g>
<g filter="url(#f6_3)"><ellipse cx="199.25" cy="837.5" rx="7" ry="8.75" fill="#d1d1d1"/></g>
<g filter="url(#f6_1_7)"><polygon points="116,872 131,872 132.5,933.25 74.5,933.25 74.5,920 118.5,897.5 118.5,880" fill="#bfbfbf"/></g>
<g filter="url(#f6_2_5)"><polygon points="118,872.5 130.5,872.5 130.5,893 120.5,895.5" fill="#9f9f9f"/></g>
<g filter="url(#f6_1_5)"><polygon points="70.5,867 93,867 93,873 70.5,873" fill="#404040"/></g>
<filter id="f6_1_4" filterUnits="userSpaceOnUse" x="38" y="715" width="260" height="282" color-interpolation-filters="sRGB"><feGaussianBlur stdDeviation="1.4"/></filter>
<g filter="url(#f6_1_4)"><polygon points="92,957.75 130.75,957.75 133.75,978.75 80.5,978.75" fill="#e6e6e6"/></g>
</g></g>
<use href="#map" transform="translate(-1.75 721.7)" fill="none" stroke="#b0b0b0" stroke-width="1.7" stroke-linejoin="round"/>
<use href="#axy" transform="translate(-1.75 721.7)"/>
<use href="#axb" transform="translate(-1.75 721.7)"/>
<use href="#axx" transform="translate(-1.75 721.4)"/>
<rect class="l" x="54.25" y="729.3" width="203.3" height="251"/>
<clipPath id="c7"><use href="#map" transform="translate(344.05 721.7)"/></clipPath>
<g clip-path="url(#c7)"><g filter="url(#jet)">
<rect x="393" y="725" width="240" height="262" fill="#000000"/>
<filter id="f7_2_5" filterUnits="userSpaceOnUse" x="383" y="715" width="260" height="282" color-interpolation-filters="sRGB"><feGaussianBlur stdDeviation="2.5"/></filter>
<g filter="url(#f7_2_5)"><polygon points="420.5,761.25 443,743 488,739.5 508,749 528,749 554.25,733.75 561.5,736.25 548.75,767.5 548.75,808.25 436.75,808.25 428,797.5 448,787.5 446,775 461,770.5" fill="#404040"/></g>
<filter id="f7_4" filterUnits="userSpaceOnUse" x="383" y="715" width="260" height="282" color-interpolation-filters="sRGB"><feGaussianBlur stdDeviation="4"/></filter>
<g filter="url(#f7_4)"><polygon points="430.5,750 553,750 553,778.75 430.5,778.75" fill="#4c4c4c"/><polygon points="430.5,792 548.5,792 548.5,810 430.5,810" fill="#292929"/><ellipse cx="468" cy="790.5" rx="18.75" ry="10.5" fill="#1f1f1f"/></g>
<filter id="f7_2" filterUnits="userSpaceOnUse" x="383" y="715" width="260" height="282" color-interpolation-filters="sRGB"><feGaussianBlur stdDeviation="2"/></filter>
<g filter="url(#f7_2)"><polygon points="440.5,738.75 486,738.75 483,748.5 443,751" fill="#000000"/></g>
<g filter="url(#f7_2_5)"><polygon points="503,748 548.5,740.5 546,760 510.5,760" fill="#000000"/><polyline points="428,757.75 457.75,755.5 487,747 500.75,759.25 518.25,767 543.75,767 553.5,749.5 561.25,735" fill="none" stroke="#5d5d5d" stroke-width="7" stroke-linejoin="round" stroke-linecap="butt"/></g>
<filter id="f7_1_5" filterUnits="userSpaceOnUse" x="383" y="715" width="260" height="282" color-interpolation-filters="sRGB"><feGaussianBlur stdDeviation="1.5"/></filter>
<g filter="url(#f7_1_5)"><polygon points="487,740 506.75,740 506.75,747 488,747" fill="#797979"/></g>
<filter id="f7_1_2" filterUnits="userSpaceOnUse" x="383" y="715" width="260" height="282" color-interpolation-filters="sRGB"><feGaussianBlur stdDeviation="1.2"/></filter>
<g filter="url(#f7_1_2)"><polygon points="556.75,727.5 571,727.5 571,734.5 556.75,734.5" fill="#737373"/></g>
<filter id="f7_2_2" filterUnits="userSpaceOnUse" x="383" y="715" width="260" height="282" color-interpolation-filters="sRGB"><feGaussianBlur stdDeviation="2.2"/></filter>
<g filter="url(#f7_2_2)"><polygon points="393,814 481.25,814 481.25,868 393,868" fill="#4f4f4f"/></g>
<g filter="url(#f7_4)"><polygon points="450.5,820 480.5,820 480.5,865.5 450.5,865.5" fill="#595959"/><polygon points="395.5,820 418,820 418,861.25 395.5,861.25" fill="#404040"/></g>
<filter id="f7_0_9" filterUnits="userSpaceOnUse" x="383" y="715" width="260" height="282" color-interpolation-filters="sRGB"><feGaussianBlur stdDeviation="0.9"/></filter>
<g filter="url(#f7_0_9)"><polyline points="419.25,869.75 438.5,869.75" fill="none" stroke="#f9f9f9" stroke-width="4.5" stroke-linejoin="round" stroke-linecap="butt"/><polyline points="452,869.75 481.5,869.75" fill="none" stroke="#cfcfcf" stroke-width="4" stroke-linejoin="round" stroke-linecap="butt"/><polyline points="480.5,870 556.5,870" fill="none" stroke="#b9b9b9" stroke-width="4.5" stroke-linejoin="round" stroke-linecap="butt"/></g>
<g filter="url(#f7_1_2)"><polygon points="556.75,815 580,815 573.5,823 559.25,823" fill="#dbdbdb"/></g>
<g filter="url(#f7_1_5)"><polygon points="563,823 572.5,823 565.5,836.5 563,836.5" fill="#8c8c8c"/></g>
<filter id="f7_3" filterUnits="userSpaceOnUse" x="383" y="715" width="260" height="282" color-interpolation-filters="sRGB"><feGaussianBlur stdDeviation="3"/></filter>
<g filter="url(#f7_3)"><polygon points="483.5,873 550,873 539.5,900 519.5,920 514.5,938.25 503,933.25 486,915.75" fill="#595959"/></g>
<g filter="url(#f7_4)"><polygon points="488,873.75 543,873.75 533,895.5 493,895.5" fill="#6c6c6c"/></g>
<filter id="f7_0_8" filterUnits="userSpaceOnUse" x="383" y="715" width="260" height="282" color-interpolation-filters="sRGB"><feGaussianBlur stdDeviation="0.8"/></filter>
<g filter="url(#f7_0_8)"><polyline points="440.5,943.25 453,943.25" fill="none" stroke="#595959" stroke-width="1.5" stroke-linejoin="round" stroke-linecap="butt"/></g>
</g></g>
<use href="#map" transform="translate(344.05 721.7)" fill="none" stroke="#b0b0b0" stroke-width="1.7" stroke-linejoin="round"/>
<use href="#axy" transform="translate(343.65 721.7)"/>
<use href="#axb" transform="translate(344.85 721.7)"/>
<use href="#axx" transform="translate(343.95 721.4)"/>
<rect class="l" x="399.65" y="729.3" width="204.7" height="251"/>
<clipPath id="c8"><use href="#map" transform="translate(691.35 721.7)"/></clipPath>
<g clip-path="url(#c8)"><g filter="url(#jet)">
<defs><linearGradient id="g8_1" gradientUnits="userSpaceOnUse" x1="828" y1="900" x2="836.5" y2="900"><stop offset="0" stop-color="#d9d9d9"/><stop offset="0.17" stop-color="#b5b5b5"/><stop offset="0.33" stop-color="#909090"/><stop offset="0.5" stop-color="#6c6c6c"/><stop offset="0.67" stop-color="#484848"/><stop offset="0.83" stop-color="#242424"/><stop offset="1" stop-color="#000000"/></linearGradient></defs>
<rect x="740" y="725" width="240" height="262" fill="#000000"/>
<filter id="f8_5" filterUnits="userSpaceOnUse" x="730" y="715" width="260" height="282" color-interpolation-filters="sRGB"><feGaussianBlur stdDeviation="5"/></filter>
<g filter="url(#f8_5)"><polygon points="775,777.5 823.75,778.75 825,816.5 775,816.5" fill="#2b2b2b"/></g>
<filter id="f8_2_5" filterUnits="userSpaceOnUse" x="730" y="715" width="260" height="282" color-interpolation-filters="sRGB"><feGaussianBlur stdDeviation="2.5"/></filter>
<g filter="url(#f8_2_5)"><polygon points="782.5,805.5 840,810.5 840,818 782.5,818" fill="#595959"/></g>
<filter id="f8_3" filterUnits="userSpaceOnUse" x="730" y="715" width="260" height="282" color-interpolation-filters="sRGB"><feGaussianBlur stdDeviation="3"/></filter>
<g filter="url(#f8_3)"><polygon points="902.5,820 913.5,820 908.5,865.5 902.5,865.5" fill="#393939"/></g>
<g filter="url(#f8_2_5)"><polygon points="782.5,812.5 838.75,814.5 838.75,822 782.5,822" fill="#9f9f9f"/></g>
<filter id="f8_2_2" filterUnits="userSpaceOnUse" x="730" y="715" width="260" height="282" color-interpolation-filters="sRGB"><feGaussianBlur stdDeviation="2.2"/></filter>
<g filter="url(#f8_2_2)"><polygon points="740,810 786.25,810 791.25,820 842.5,820 842.5,869.5 740,869.5" fill="#e6e6e6"/></g>
<g filter="url(#f8_3)"><polygon points="742.5,808.75 787.5,808.75 790,818 770,821.25 742.5,825" fill="#b9b9b9"/></g>
<filter id="f8_2" filterUnits="userSpaceOnUse" x="730" y="715" width="260" height="282" color-interpolation-filters="sRGB"><feGaussianBlur stdDeviation="2"/></filter>
<g filter="url(#f8_2)"><polygon points="743.75,823.75 756.5,823.75 756.5,846.25 743.75,846.25" fill="#bfbfbf"/><polygon points="840,819.25 896,819.25 901,869 840,869" fill="#a2a2a2"/></g>
<g filter="url(#f8_3)"><polygon points="836.25,822.5 850,822.5 850,861.25 836.25,861.25" fill="#b2b2b2"/></g>
<filter id="f8_1_5" filterUnits="userSpaceOnUse" x="730" y="715" width="260" height="282" color-interpolation-filters="sRGB"><feGaussianBlur stdDeviation="1.5"/></filter>
<g filter="url(#f8_1_5)"><polygon points="835,864 901.5,864.5 901.5,870 835,870" fill="#e6e6e6"/></g>
<filter id="f8_4" filterUnits="userSpaceOnUse" x="730" y="715" width="260" height="282" color-interpolation-filters="sRGB"><feGaussianBlur stdDeviation="4"/></filter>
<g filter="url(#f8_4)"><ellipse cx="860" cy="848.75" rx="20" ry="7" fill="#939393"/></g>
<g filter="url(#f8_3)"><polygon points="884.5,822.5 894.5,822.5 895.5,838 887,838" fill="#b5b5b5"/></g>
<filter id="f8_1_2" filterUnits="userSpaceOnUse" x="730" y="715" width="260" height="282" color-interpolation-filters="sRGB"><feGaussianBlur stdDeviation="1.2"/></filter>
<g filter="url(#f8_1_2)"><polyline points="763.75,866.5 900.5,867.25" fill="none" stroke="#ececec" stroke-width="3" stroke-linejoin="round" stroke-linecap="butt"/></g>
<g filter="url(#f8_2)"><polygon points="810,875 823.75,875 823.75,896.5 811.25,896.5" fill="#707070"/><polygon points="777.5,937.5 828,941.5 828,946.5 788.75,948" fill="#a6a6a6"/></g>
<g filter="url(#f8_2_5)"><polygon points="763,920.5 805,900 824.75,897.5 828,897.5 828,941.5 790,945 777.5,935.75 763,933.25" fill="#e6e6e6"/></g>
<filter id="f8_0_8" filterUnits="userSpaceOnUse" x="730" y="715" width="260" height="282" color-interpolation-filters="sRGB"><feGaussianBlur stdDeviation="0.8"/></filter>
<g filter="url(#f8_0_8)"><polygon points="827.5,871 837,871 837,942 827.5,942" fill="url(#g8_1)"/></g>
<filter id="f8_1" filterUnits="userSpaceOnUse" x="730" y="715" width="260" height="282" color-interpolation-filters="sRGB"><feGaussianBlur stdDeviation="1"/></filter>
<g filter="url(#f8_1)"><polyline points="826.5,869.5 826.5,941.5" fill="none" stroke="#f9f9f9" stroke-width="4.2" stroke-linejoin="round" stroke-linecap="butt"/></g>
<g filter="url(#f8_0_8)"><polygon points="910,728 918.5,728 918.5,735 910,735" fill="#dfdfdf"/></g>
<g filter="url(#f8_2)"><polygon points="944.5,782.5 952.5,782.5 952.5,805.5 946.5,805.5" fill="#393939"/></g>
<g filter="url(#f8_0_8)"><polyline points="810,741 840,741.5" fill="none" stroke="#808080" stroke-width="1.5" stroke-linejoin="round" stroke-linecap="butt"/></g>
</g></g>
<use href="#map" transform="translate(691.35 721.7)" fill="none" stroke="#b0b0b0" stroke-width="1.7" stroke-linejoin="round"/>
<use href="#axy" transform="translate(690.75 721.7)"/>
<use href="#axb" transform="translate(691.65 721.7)"/>
<use href="#axx" transform="translate(691.05 721.4)"/>
<rect class="l" x="746.75" y="729.3" width="204.8" height="251"/>
<clipPath id="c9"><use href="#map" transform="translate(-1.75 1076.7)"/></clipPath>
<g clip-path="url(#c9)"><g filter="url(#jet)">
<defs><linearGradient id="g9_1" gradientUnits="userSpaceOnUse" x1="206.5" y1="1199" x2="223" y2="1199"><stop offset="0" stop-color="#e6e6e6"/><stop offset="0.17" stop-color="#c4c4c4"/><stop offset="0.33" stop-color="#a2a2a2"/><stop offset="0.5" stop-color="#7f7f7f"/><stop offset="0.67" stop-color="#5e5e5e"/><stop offset="0.83" stop-color="#3c3c3c"/><stop offset="1" stop-color="#191919"/></linearGradient></defs>
<rect x="48" y="1079" width="240" height="262" fill="#000000"/><polygon points="48,1079 211,1079 211,1254 48,1254" fill="#e6e6e6"/><polygon points="211,1079 265.5,1079 265.5,1175.25 211,1175.25" fill="#868686"/>
<filter id="f9_2_5" filterUnits="userSpaceOnUse" x="38" y="1069" width="260" height="282" color-interpolation-filters="sRGB"><feGaussianBlur stdDeviation="2.5"/></filter>
<g filter="url(#f9_2_5)"><polygon points="48,1091.5 136,1091.5 136,1205.5 48,1205.5" fill="#ffffff"/><polygon points="142,1102.25 213,1102.25 213,1170.75 142,1170.75" fill="#b1b1b1"/></g>
<filter id="f9_4" filterUnits="userSpaceOnUse" x="38" y="1069" width="260" height="282" color-interpolation-filters="sRGB"><feGaussianBlur stdDeviation="4"/></filter>
<g filter="url(#f9_4)"><polygon points="153,1141.5 205.5,1141.5 205.5,1167 153,1167" fill="#aaaaaa"/></g>
<filter id="f9_1_5" filterUnits="userSpaceOnUse" x="38" y="1069" width="260" height="282" color-interpolation-filters="sRGB"><feGaussianBlur stdDeviation="1.5"/></filter>
<g filter="url(#f9_1_5)"><polygon points="110.5,1091.5 165.5,1091.5 165.5,1102 130.5,1100.5 110.5,1097.5" fill="#404040"/></g>
<filter id="f9_3" filterUnits="userSpaceOnUse" x="38" y="1069" width="260" height="282" color-interpolation-filters="sRGB"><feGaussianBlur stdDeviation="3"/></filter>
<g filter="url(#f9_3)"><ellipse cx="148" cy="1195.5" rx="5.5" ry="10" fill="#cfcfcf"/></g>
<g filter="url(#f9_2_5)"><polygon points="118.75,1231.5 198.5,1231.5 194.75,1257 119.25,1254" fill="#fbfbfb"/></g>
<filter id="f9_3_5" filterUnits="userSpaceOnUse" x="38" y="1069" width="260" height="282" color-interpolation-filters="sRGB"><feGaussianBlur stdDeviation="3.5"/></filter>
<g filter="url(#f9_3_5)"><polygon points="211.75,1079 265.5,1079 265.5,1177 212.5,1177" fill="#838383"/></g>
<g filter="url(#f9_4)"><polygon points="231.75,1094 265.5,1094 265.5,1136.5 238,1136.5" fill="#909090"/><polygon points="214.25,1131.5 265.5,1131.5 265.5,1165.25 214.25,1165.25" fill="#737373"/><ellipse cx="238" cy="1144.5" rx="12.5" ry="7.5" fill="#696969"/></g>
<g filter="url(#f9_1_5)"><polygon points="186.25,1086.5 216.5,1086.5 215.25,1102 188,1103" fill="#000000"/></g>
<filter id="f9_0_6" filterUnits="userSpaceOnUse" x="38" y="1069" width="260" height="282" color-interpolation-filters="sRGB"><feGaussianBlur stdDeviation="0.6"/></filter>
<g filter="url(#f9_0_6)"><polygon points="217.5,1082 224.75,1082 224.75,1090.5 217.5,1090.5" fill="#f2f2f2"/></g>
<filter id="f9_1" filterUnits="userSpaceOnUse" x="38" y="1069" width="260" height="282" color-interpolation-filters="sRGB"><feGaussianBlur stdDeviation="1"/></filter>
<g filter="url(#f9_1)"><polygon points="206,1175.25 238,1175.25 218,1234 204,1234" fill="url(#g9_1)"/></g>
<filter id="f9_2" filterUnits="userSpaceOnUse" x="38" y="1069" width="260" height="282" color-interpolation-filters="sRGB"><feGaussianBlur stdDeviation="2"/></filter>
<g filter="url(#f9_2)"><polygon points="50.5,1177 60,1177 66.5,1214.5 57,1214.5" fill="#333333"/><ellipse cx="163" cy="1247" rx="4" ry="6.5" fill="#8c8c8c"/></g>
<g filter="url(#f9_1_5)"><polygon points="48,1252 120.5,1250 148,1255.5 156,1253 163,1246 172,1253 196,1255.5 228,1255.5 228,1337.75 48,1337.75" fill="#000000"/></g>
<filter id="f9_0_8" filterUnits="userSpaceOnUse" x="38" y="1069" width="260" height="282" color-interpolation-filters="sRGB"><feGaussianBlur stdDeviation="0.8"/></filter>
<g filter="url(#f9_0_8)"><polyline points="85.5,1290 126,1293" fill="none" stroke="#666666" stroke-width="1.5" stroke-linejoin="round" stroke-linecap="butt"/></g>
</g></g>
<use href="#map" transform="translate(-1.75 1076.7)" fill="none" stroke="#b0b0b0" stroke-width="1.7" stroke-linejoin="round"/>
<use href="#axy" transform="translate(-1.75 1076.7)"/>
<use href="#axb" transform="translate(-1.75 1076.7)"/>
<use href="#axx" transform="translate(-1.75 1075.5)"/>
<rect class="l" x="54.25" y="1083.4" width="203.3" height="251"/>
<clipPath id="c10"><use href="#map" transform="translate(344.05 1076.7)"/></clipPath>
<g clip-path="url(#c10)"><g filter="url(#jet)">
<rect x="393" y="1079" width="240" height="262" fill="#949494"/>
<filter id="f10_5" filterUnits="userSpaceOnUse" x="383" y="1069" width="260" height="282" color-interpolation-filters="sRGB"><feGaussianBlur stdDeviation="5"/></filter>
<g filter="url(#f10_5)"><polygon points="561.25,1089 610.5,1089 610.5,1165.25 548,1165.25 514.5,1162.75 518.25,1140.5" fill="#a6a6a6"/></g>
<filter id="f10_4" filterUnits="userSpaceOnUse" x="383" y="1069" width="260" height="282" color-interpolation-filters="sRGB"><feGaussianBlur stdDeviation="4"/></filter>
<g filter="url(#f10_4)"><ellipse cx="579.25" cy="1121.5" rx="7.5" ry="12.5" fill="#afafaf"/></g>
<filter id="f10_3" filterUnits="userSpaceOnUse" x="383" y="1069" width="260" height="282" color-interpolation-filters="sRGB"><feGaussianBlur stdDeviation="3"/></filter>
<g filter="url(#f10_3)"><polygon points="553,1154 579.25,1154 579.25,1165.25 553,1165.25" fill="#959595"/></g>
<g filter="url(#f10_4)"><polygon points="435.5,1101.5 553,1099 543,1114 443,1117" fill="#828282"/></g>
<filter id="f10_2_5" filterUnits="userSpaceOnUse" x="383" y="1069" width="260" height="282" color-interpolation-filters="sRGB"><feGaussianBlur stdDeviation="2.5"/></filter>
<g filter="url(#f10_2_5)"><polygon points="428,1094 514.25,1094 514.25,1105.5 453,1109.5 428,1120.25" fill="#595959"/></g>
<filter id="f10_1_5" filterUnits="userSpaceOnUse" x="383" y="1069" width="260" height="282" color-interpolation-filters="sRGB"><feGaussianBlur stdDeviation="1.5"/></filter>
<g filter="url(#f10_1_5)"><polygon points="430.5,1090.25 511,1090.25 511,1098.5 453,1102 430.5,1112.75" fill="#131313"/><polygon points="531.25,1086.5 561.5,1086.5 558.5,1100.5 533,1102" fill="#000000"/></g>
<filter id="f10_2" filterUnits="userSpaceOnUse" x="383" y="1069" width="260" height="282" color-interpolation-filters="sRGB"><feGaussianBlur stdDeviation="2"/></filter>
<g filter="url(#f10_2)"><polygon points="540.5,1099 560,1099 553,1106.5 540.5,1104" fill="#737373"/></g>
<filter id="f10_0_6" filterUnits="userSpaceOnUse" x="383" y="1069" width="260" height="282" color-interpolation-filters="sRGB"><feGaussianBlur stdDeviation="0.6"/></filter>
<g filter="url(#f10_0_6)"><polygon points="562.5,1082 571.5,1082 571.5,1090.5 562.5,1090.5" fill="#f2f2f2"/></g>
<g filter="url(#f10_4)"><ellipse cx="502.25" cy="1125.5" rx="13" ry="12" fill="#7d7d7d"/></g>
<g filter="url(#f10_5)"><polygon points="490.5,1136.5 518,1136.5 515.5,1161.5 495.5,1161.5" fill="#8a8a8a"/></g>
<g filter="url(#f10_4)"><ellipse cx="473.5" cy="1127" rx="10.5" ry="6.5" fill="#a1a1a1"/><polygon points="440.5,1147.75 493,1147.75 498.5,1164.5 443,1164.5" fill="#a2a2a2"/></g>
<g filter="url(#f10_3)"><polygon points="499.25,1156.5 511.75,1156.5 511.75,1175.25 499.25,1175.25" fill="#9f9f9f"/></g>
<g filter="url(#f10_5)"><polygon points="423,1161.5 493,1164 493,1184 423,1184" fill="#b2b2b2"/></g>
<g filter="url(#f10_3)"><polygon points="414.25,1167 458.5,1170 456,1182 416.75,1179.5" fill="#b5b5b5"/></g>
<filter id="f10_3_5" filterUnits="userSpaceOnUse" x="383" y="1069" width="260" height="282" color-interpolation-filters="sRGB"><feGaussianBlur stdDeviation="3.5"/></filter>
<g filter="url(#f10_3_5)"><polygon points="406.75,1185.25 418,1179.5 455.5,1182 481.75,1184.5 513,1167 559,1165.75 561.5,1186.5 556.5,1227.25 533,1229.75 510.5,1219.75 493,1224.75 460.5,1227.25 438,1222.25 428,1230.75 418,1227.5 406.75,1209" fill="#ececec"/></g>
<g filter="url(#f10_4)"><polygon points="414.25,1187.75 455.5,1189 455.5,1214.5 415.5,1214.5" fill="#fcfcfc"/><polygon points="523,1172.75 558.5,1171.5 557.25,1219.5 525.5,1219.5" fill="#fcfcfc"/></g>
<g filter="url(#f10_2)"><polygon points="398,1175.25 413.75,1175.25 410.5,1198 398,1198" fill="#666666"/></g>
<g filter="url(#f10_1_5)"><polygon points="564,1176 575,1176 568.5,1185.5 564,1185.5" fill="#404040"/></g>
<g filter="url(#f10_3)"><polygon points="462.5,1228.25 543.5,1228.25 538.5,1254.5 465,1254.5" fill="#6c6c6c"/><polygon points="518,1229.5 546.75,1229.5 536,1267 520.5,1267" fill="#9c9c9c"/></g>
<g filter="url(#f10_1_5)"><ellipse cx="474.25" cy="1233.75" rx="9.5" ry="6" fill="#000000"/><polygon points="496.75,1229.25 510.5,1221.75 529.5,1229.25 529.5,1239.25 510.5,1243 498,1239.25" fill="#000000"/></g>
<g filter="url(#f10_3)"><polygon points="465.5,1252 515.5,1252 515.5,1260.25 468,1260.25" fill="#999999"/></g>
<g filter="url(#f10_2_5)"><polygon points="476.75,1254.5 513.25,1259.75 518.75,1287.25 511.25,1297.25 488.75,1299.75 481,1279.5" fill="#e6e6e6"/></g>
<g filter="url(#f10_3)"><ellipse cx="504.25" cy="1284.25" rx="11.25" ry="7.5" fill="#fcfcfc"/><polygon points="410.5,1271.5 446,1271.5 446,1292 410.5,1292" fill="#464646"/></g>
<g filter="url(#f10_2)"><ellipse cx="460" cy="1275.5" rx="21.5" ry="17.5" fill="#595959"/></g>
<g filter="url(#f10_1_5)"><ellipse cx="460" cy="1275.5" rx="18" ry="14.5" fill="#000000"/><polygon points="438,1293.5 481,1293.5 481,1301.25 440.5,1301.25" fill="#999999"/></g>
<filter id="f10_1" filterUnits="userSpaceOnUse" x="383" y="1069" width="260" height="282" color-interpolation-filters="sRGB"><feGaussianBlur stdDeviation="1"/></filter>
<g filter="url(#f10_1)"><polyline points="437.5,1293 481,1293.5" fill="none" stroke="#bfbfbf" stroke-width="2.5" stroke-linejoin="round" stroke-linecap="butt"/><polyline points="440,1301.75 481,1301.75 488.5,1297" fill="none" stroke="#f0f0f0" stroke-width="3" stroke-linejoin="round" stroke-linecap="butt"/></g>
<g filter="url(#f10_1_5)"><polygon points="489.25,1298.5 505,1298.5 505,1312 494.5,1304.5" fill="#595959"/><polygon points="425.5,1304.25 493,1303 503.5,1312 503.5,1337.75 425.5,1337.75" fill="#000000"/></g>
</g></g>
<use href="#map" transform="translate(344.05 1076.7)" fill="none" stroke="#b0b0b0" stroke-width="1.7" stroke-linejoin="round"/>
<use href="#axy" transform="translate(343.65 1076.7)"/>
<use href="#axb" transform="translate(344.85 1076.7)"/>
<use href="#axx" transform="translate(343.95 1075.5)"/>
<rect class="l" x="399.65" y="1083.4" width="204.7" height="251"/>
<clipPath id="c11"><use href="#map" transform="translate(691.35 1076.7)"/></clipPath>
<g clip-path="url(#c11)"><g filter="url(#jet)">
<rect x="740" y="1079" width="240" height="262" fill="#2d2d2d"/>
<filter id="f11_5" filterUnits="userSpaceOnUse" x="730" y="1069" width="260" height="282" color-interpolation-filters="sRGB"><feGaussianBlur stdDeviation="5"/></filter>
<g filter="url(#f11_5)"><polygon points="740,1165.25 840,1165.25 840,1209.5 765,1230.25 740,1205.25" fill="#333333"/><ellipse cx="770" cy="1191.5" rx="12.5" ry="20" fill="#424242"/><polygon points="840,1174 905.5,1174 905.5,1215.25 840,1209" fill="#464646"/></g>
<filter id="f11_4" filterUnits="userSpaceOnUse" x="730" y="1069" width="260" height="282" color-interpolation-filters="sRGB"><feGaussianBlur stdDeviation="4"/></filter>
<g filter="url(#f11_4)"><ellipse cx="821.25" cy="1177" rx="15.5" ry="15" fill="#595959"/></g>
<filter id="f11_3" filterUnits="userSpaceOnUse" x="730" y="1069" width="260" height="282" color-interpolation-filters="sRGB"><feGaussianBlur stdDeviation="3"/></filter>
<g filter="url(#f11_3)"><ellipse cx="821.5" cy="1173" rx="7.5" ry="7" fill="#808080"/></g>
<g filter="url(#f11_4)"><polygon points="861.25,1175.5 892.5,1167.5 906,1200.75 900,1219 880.75,1208.5 853.25,1193" fill="#666666"/><polygon points="870,1179 891.25,1172.75 901.25,1199 882.5,1204 865,1191.5" fill="#757575"/></g>
<g filter="url(#f11_3)"><ellipse cx="890.5" cy="1194.5" rx="7.5" ry="6.5" fill="#838383"/></g>
<filter id="f11_1_2" filterUnits="userSpaceOnUse" x="730" y="1069" width="260" height="282" color-interpolation-filters="sRGB"><feGaussianBlur stdDeviation="1.2"/></filter>
<g filter="url(#f11_1_2)"><ellipse cx="891.25" cy="1195" rx="2.25" ry="2.25" fill="#919191"/></g>
<filter id="f11_2_5" filterUnits="userSpaceOnUse" x="730" y="1069" width="260" height="282" color-interpolation-filters="sRGB"><feGaussianBlur stdDeviation="2.5"/></filter>
<g filter="url(#f11_2_5)"><polygon points="836.25,1163.5 862.5,1163.5 857.5,1179.5 845,1177" fill="#030303"/><polygon points="907,1163.5 931.25,1163.5 915,1199.5 907,1189" fill="#000000"/></g>
<filter id="f11_3_5" filterUnits="userSpaceOnUse" x="730" y="1069" width="260" height="282" color-interpolation-filters="sRGB"><feGaussianBlur stdDeviation="3.5"/></filter>
<g filter="url(#f11_3_5)"><polygon points="785,1216 808.5,1209.5 837.75,1201.5 853.25,1209.5 880.75,1218 900.25,1226 900.25,1299.5 790,1299.5 797.5,1269.5 807.5,1254.5" fill="#000000"/></g>
<g filter="url(#f11_4)"><polygon points="760,1254 803,1254 803,1297 760,1297" fill="#262626"/></g>
<filter id="f11_2" filterUnits="userSpaceOnUse" x="730" y="1069" width="260" height="282" color-interpolation-filters="sRGB"><feGaussianBlur stdDeviation="2"/></filter>
<g filter="url(#f11_2)"><ellipse cx="817.5" cy="1246.75" rx="5" ry="5" fill="#404040"/></g>
<g filter="url(#f11_3)"><ellipse cx="775" cy="1280.5" rx="15" ry="10" fill="#6c6c6c"/></g>
<g filter="url(#f11_2)"><ellipse cx="769.5" cy="1279.75" rx="5.5" ry="4.5" fill="#8a8a8a"/></g>
<g filter="url(#f11_3)"><polygon points="791.25,1124 835.5,1124 835.5,1147.5 791.25,1147.5" fill="#4c4c4c"/></g>
<filter id="f11_1_5" filterUnits="userSpaceOnUse" x="730" y="1069" width="260" height="282" color-interpolation-filters="sRGB"><feGaussianBlur stdDeviation="1.5"/></filter>
<g filter="url(#f11_1_5)"><ellipse cx="824.5" cy="1129.25" rx="7.5" ry="7.5" fill="#000000"/></g>
<g filter="url(#f11_2)"><polygon points="775,1147.5 836.5,1147.5 838.25,1164.5 775,1164.5" fill="#000000"/></g>
<filter id="f11_1_3" filterUnits="userSpaceOnUse" x="730" y="1069" width="260" height="282" color-interpolation-filters="sRGB"><feGaussianBlur stdDeviation="1.3"/></filter>
<g filter="url(#f11_1_3)"><polygon points="772.5,1115.25 795,1097.75 845,1093.25 860,1102 875,1102 905,1079 917.5,1079 931.75,1111.5 936.75,1129 952.5,1136.5 952.5,1161.25 838.25,1162.5 835.75,1141.5 833.25,1124.75 823.25,1117.25 802.5,1112.25" fill="#ebebeb"/></g>
<g filter="url(#f11_3)"><polygon points="770,1111.5 779.75,1104 809,1091.5 844.25,1091.5 865,1104 865,1143 838,1143 835.75,1141.5 833.25,1124.75 823.25,1117.25 802.5,1112.25" fill="#ffffff"/></g>
<g filter="url(#f11_5)"><ellipse cx="883.25" cy="1123" rx="19.5" ry="16.5" fill="#c8c8c8"/><polygon points="900,1126.5 940,1154 915,1154 890,1139" fill="#d9d9d9"/></g>
<g filter="url(#f11_3)"><polygon points="863.75,1143.5 891,1143.5 891,1160.75 863.75,1160.75" fill="#fcfcfc"/><polygon points="911,1143.5 941.5,1143.5 941.5,1160 911,1160" fill="#fcfcfc"/></g>
<g filter="url(#f11_1_5)"><polygon points="786.25,1299.75 838.75,1297.25 859.5,1298.75 855.5,1336.5 775,1336.5" fill="#bfbfbf"/></g>
<g filter="url(#f11_2_5)"><polygon points="797.5,1303.5 823.75,1303.5 823.75,1310.25 797.5,1310.25" fill="#cfcfcf"/></g>
<filter id="f11_1" filterUnits="userSpaceOnUse" x="730" y="1069" width="260" height="282" color-interpolation-filters="sRGB"><feGaussianBlur stdDeviation="1"/></filter>
<g filter="url(#f11_1)"><ellipse cx="840" cy="1301.25" rx="3" ry="3" fill="#868686"/></g>
<g filter="url(#f11_2_5)"><polygon points="788.75,1314.5 822.5,1315.75 826.5,1327 790,1325.75" fill="#6c6c6c"/></g>
<g filter="url(#f11_1_5)"><polygon points="775,1318.25 790,1319.5 787.5,1330.25 775,1330.25" fill="#000000"/><polygon points="835,1323.25 844.25,1323.25 843,1334 835,1334" fill="#e6e6e6"/></g>
</g></g>
<use href="#map" transform="translate(691.35 1076.7)" fill="none" stroke="#b0b0b0" stroke-width="1.7" stroke-linejoin="round"/>
<use href="#axy" transform="translate(690.75 1076.7)"/>
<use href="#axb" transform="translate(691.65 1076.7)"/>
<use href="#axx" transform="translate(691.05 1075.5)"/>
<rect class="l" x="746.75" y="1083.4" width="204.8" height="251"/>
<text class="m" x="116" y="331.4">May</text>
<text class="m" x="468" y="331.4">June</text>
<text class="m" x="813.5" y="331.4">July</text>
<text class="m" x="116" y="688.4">August</text>
<text class="m" x="466.5" y="688.4">September</text>
<text class="m" x="812.5" y="688.4">October</text>
<text class="m" x="120" y="1048.3">May</text>
<text class="m" x="471" y="1048.3">June</text>
<text class="m" x="817" y="1048.3">July</text>
<text class="m" x="116" y="1408.4">August</text>
<text class="m" x="467" y="1408.4">September</text>
<text class="m" x="813" y="1408.4">October</text>
<text class="m" style="text-anchor:start" x="7.5" y="688.3">(a)</text>
<text class="m" style="text-anchor:start" x="11.3" y="1403.8">(b)</text>
</svg></body></html>
